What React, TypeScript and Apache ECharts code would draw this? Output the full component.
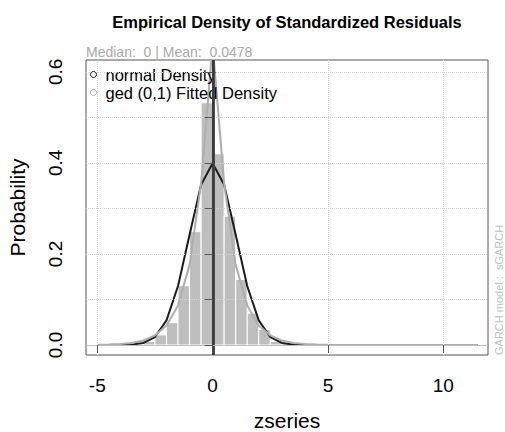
import React, { useEffect, useRef } from "react";
import * as echarts from "echarts";

// Histogram bins (break start, break end, density)
const binStart = [-5, -4.5, -4, -3.5, -3, -2.5, -2, -1.5, -1, -0.5, 0, 0.5, 1, 1.5, 2, 2.5, 3, 3.5, 4, 4.5, 5, 5.5, 6, 6.5, 7, 7.5, 8, 8.5, 9, 9.5, 10, 10.5, 11];
const binDensity = [0.002, 0, 0, 0, 0.008, 0.022, 0.049, 0.13, 0.249, 0.532, 0.42, 0.283, 0.144, 0.07, 0.034, 0.008, 0.003, 0, 0, 0, 0, 0, 0, 0, 0, 0, 0, 0, 0, 0, 0, 0, 0.002];
const binWidth = 0.5;

// Density curves evaluated at histogram breaks
const breaks = [-5, -4.5, -4, -3.5, -3, -2.5, -2, -1.5, -1, -0.5, 0, 0.5, 1, 1.5, 2, 2.5, 3, 3.5, 4, 4.5, 5, 5.5, 6, 6.5, 7, 7.5, 8, 8.5, 9, 9.5, 10, 10.5, 11, 11.5];
const normalDensity = [0.0000015, 0.000016, 0.000134, 0.000873, 0.00443, 0.0175, 0.054, 0.1295, 0.242, 0.352, 0.399, 0.352, 0.242, 0.1295, 0.054, 0.0175, 0.00443, 0.000873, 0.000134, 0.000016, 0.0000015, 0, 0, 0, 0, 0, 0, 0, 0, 0, 0, 0, 0, 0];
const gedDensity = [0.0004, 0.0009, 0.002, 0.0045, 0.0098, 0.021, 0.043, 0.087, 0.176, 0.355, 0.66, 0.355, 0.176, 0.087, 0.043, 0.021, 0.0098, 0.0045, 0.002, 0.0009, 0.0004, 0.0002, 0.0001, 0.00005, 0.00002, 0.00001, 0, 0, 0, 0, 0, 0, 0, 0];

const MEDIAN = 0;
const MEAN = 0.0478;

const xTicks = [-5, 0, 5, 10];
const yTicks = [0, 0.1, 0.2, 0.3, 0.4, 0.5, 0.6];
const yLabels = [0, 0.2, 0.4, 0.6];

const FONT = "'Liberation Sans', Arial, Helvetica, sans-serif";
const SP2 = "\u00a0\u00a0";

export default function App() {
  const ref = useRef<HTMLDivElement>(null);
  useEffect(() => {
    if (!ref.current) return;
    const chart = echarts.init(ref.current, null, { renderer: "svg" });
    const hist = binStart.map((s, i) => [s, s + binWidth, binDensity[i]]);
    const normalData = breaks.map((b, i) => [b, normalDensity[i]]);
    const gedData = breaks.map((b, i) => [b, gedDensity[i]]);

    chart.setOption({
      animation: false,
      textStyle: { fontFamily: FONT },
      title: [
        {
          text: "Empirical Density of Standardized Residuals",
          left: 287,
          textAlign: "center",
          top: 13,
          padding: 0,
          textStyle: { fontSize: 16.5, fontWeight: "bold", color: "#000", fontFamily: FONT },
        },
        {
          text: `Median:${SP2}${MEDIAN} | Mean:${SP2}${MEAN}`,
          left: 86,
          top: 45,
          padding: 0,
          textStyle: { fontSize: 14, fontWeight: "normal", color: "#a9a9a9", fontFamily: FONT },
        },
      ],
      legend: {
        orient: "vertical",
        left: 90,
        top: 66,
        padding: 0,
        itemWidth: 14,
        itemHeight: 6,
        itemGap: 1,
        selectedMode: false,
        textStyle: { fontSize: 16.5, color: "#000", fontFamily: FONT },
        data: [
          { name: "normal Density", icon: "circle", itemStyle: { color: "transparent", borderColor: "#1c1c1c", borderWidth: 1 } },
          { name: "ged (0,1) Fitted Density", icon: "circle", itemStyle: { color: "transparent", borderColor: "#aeaeae", borderWidth: 1 } },
        ],
      },
      grid: {
        left: 86,
        top: 60,
        right: 17,
        bottom: 77,
        show: true,
        borderColor: "#555",
        borderWidth: 1,
        backgroundColor: "transparent",
        containLabel: false,
        outerBoundsMode: "none",
      },
      xAxis: {
        type: "value",
        min: -5.49,
        max: 11.94,
        z: 5,
        axisLine: { show: false },
        axisTick: { show: true, customValues: xTicks, length: 8, inside: false, lineStyle: { color: "#555" } },
        axisLabel: { customValues: xTicks, fontSize: 19, color: "#000", margin: 21 },
        splitLine: { show: true, lineStyle: { color: "#d3d3d3", type: "dotted", width: 1 } },
        name: "zseries",
        nameLocation: "middle",
        nameGap: 55,
        nameMoveOverlap: false,
        nameTextStyle: { fontSize: 21, color: "#000" },
      },
      yAxis: {
        type: "value",
        min: -0.022,
        max: 0.626,
        z: 5,
        axisLine: { show: false },
        axisTick: { show: true, customValues: yTicks, length: 8, inside: false, lineStyle: { color: "#555" } },
        axisLabel: {
          customValues: yLabels,
          fontSize: 19,
          color: "#000",
          rotate: 90,
          margin: 31,
          align: "center",
          verticalAlign: "middle",
          formatter: (v: number) => v.toFixed(1),
        },
        splitLine: { show: true, lineStyle: { color: "#d3d3d3", type: "dotted", width: 1 } },
        name: "Probability",
        nameLocation: "middle",
        nameGap: 58,
        nameMoveOverlap: false,
        nameTextStyle: { fontSize: 21, color: "#000" },
      },
      series: [
        {
          type: "custom",
          name: "hist",
          data: hist,
          encode: { x: [0, 1], y: 2 },
          clip: true,
          renderItem: (params: any, api: any) => {
            const h = api.value(2);
            if (!(h > 0)) return null;
            const p0 = api.coord([api.value(0), 0]);
            const p1 = api.coord([api.value(1), h]);
            return {
              type: "rect",
              shape: { x: p0[0], y: p1[1], width: p1[0] - p0[0], height: p0[1] - p1[1] },
              style: { fill: "#bebebe", stroke: "#ffffff", lineWidth: 1 },
            };
          },
          z: 1,
        },
        {
          type: "line",
          name: "normal Density",
          data: normalData,
          symbol: "none",
          color: "#1c1c1c",
          lineStyle: { color: "#1c1c1c", width: 2 },
          clip: true,
          z: 2,
        },
        {
          type: "line",
          name: "ged (0,1) Fitted Density",
          data: gedData,
          symbol: "none",
          color: "#aeaeae",
          lineStyle: { color: "#aeaeae", width: 2 },
          clip: true,
          z: 3,
        },
        {
          type: "line",
          name: "refLines",
          data: [],
          z: 4,
          markLine: {
            silent: true,
            symbol: "none",
            label: { show: false },
            data: [
              { xAxis: MEAN, lineStyle: { color: "#4c4c4c", width: 2, type: "solid" } },
              { xAxis: MEDIAN, lineStyle: { color: "#3b3b3b", width: 2, type: "solid" } },
              { yAxis: 0, lineStyle: { color: "#bebebe", width: 1, type: "solid" } },
            ],
          },
        },
      ],
      graphic: [
        {
          type: "text",
          x: 499,
          y: 355,
          rotation: Math.PI / 2,
          style: {
            text: `GARCH model :${SP2}sGARCH`,
            fill: "#bebebe",
            fontSize: 11,
            fontFamily: FONT,
            textAlign: "left",
            textVerticalAlign: "middle",
          },
        },
      ],
    });
    return () => chart.dispose();
  }, []);
  return <div ref={ref} style={{ position: "absolute", left: 0, top: 0, width: 505, height: 432 }} />;
}
